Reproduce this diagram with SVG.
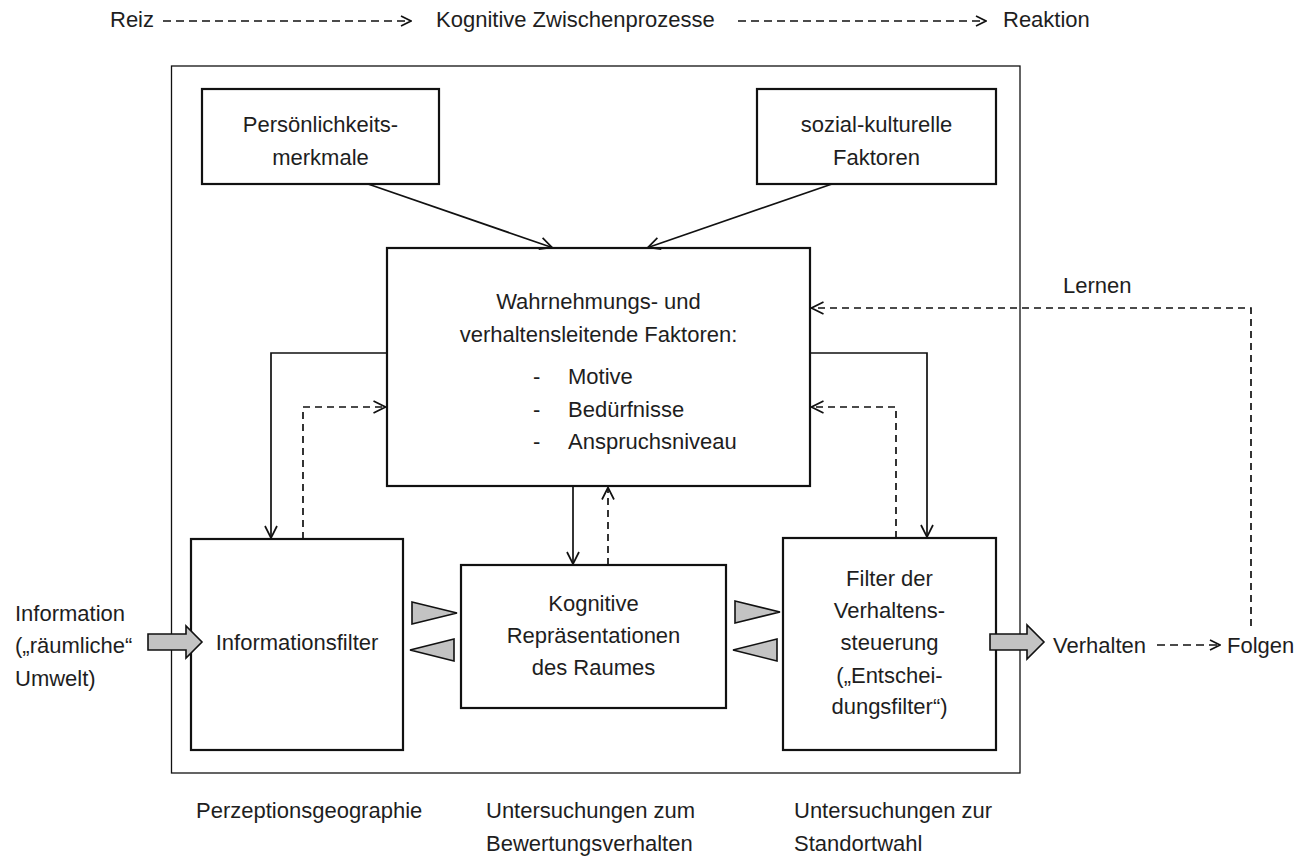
<svg xmlns="http://www.w3.org/2000/svg" width="1311" height="858" viewBox="0 0 1311 858">
<style>
text{font-family:"Liberation Sans",Arial,sans-serif;font-size:22px;fill:#1e1e1e}
.c{text-anchor:middle}
.box{fill:#fff;stroke:#111;stroke-width:2.2}
.outer{fill:none;stroke:#111;stroke-width:1.3}
.ln{fill:none;stroke:#111;stroke-width:1.7}
.dash{fill:none;stroke:#111;stroke-width:1.7;stroke-dasharray:7 5}
.tri{fill:#c3c3c3;stroke:#111;stroke-width:1.6;stroke-linejoin:miter}
</style>
<defs>
<marker id="ah" viewBox="0 0 14 14" refX="13" refY="7" markerWidth="14" markerHeight="14" markerUnits="userSpaceOnUse" orient="auto">
<path d="M1,1 L13,7 L1,13" fill="none" stroke="#111" stroke-width="1.7"/>
</marker>
<marker id="ahs" viewBox="0 0 12 12" refX="11" refY="6" markerWidth="12" markerHeight="12" markerUnits="userSpaceOnUse" orient="auto">
<path d="M1,1 L11,6 L1,11" fill="none" stroke="#111" stroke-width="1.6"/>
</marker>
</defs>

<g id="header">
<text x="110" y="27">Reiz</text>
<text x="436" y="27">Kognitive Zwischenprozesse</text>
<text x="1003" y="27">Reaktion</text>
<line class="dash" x1="163" y1="21" x2="411" y2="21" style="stroke-dasharray:8 5;stroke-width:1.5" marker-end="url(#ahs)"/>
<line class="dash" x1="738" y1="21" x2="986" y2="21" style="stroke-dasharray:8 5;stroke-width:1.5" marker-end="url(#ahs)"/>
</g>

<rect id="outer" class="outer" x="171.5" y="66" width="848.5" height="707"/>

<g id="persoenlichkeit">
<rect class="box" x="202" y="89" width="237" height="95"/>
<text class="c" x="320.5" y="132">Persönlichkeits-</text>
<text class="c" x="320.5" y="165">merkmale</text>
</g>

<g id="sozial">
<rect class="box" x="757" y="89" width="239" height="95"/>
<text class="c" x="876.5" y="132">sozial-kulturelle</text>
<text class="c" x="876.5" y="165">Faktoren</text>
</g>

<g id="wahrnehmung">
<rect class="box" x="387" y="248" width="423" height="238"/>
<text class="c" x="598.5" y="309">Wahrnehmungs- und</text>
<text class="c" x="598.5" y="342">verhaltensleitende Faktoren:</text>
<text x="533" y="384">-</text><text x="568" y="384">Motive</text>
<text x="533" y="417">-</text><text x="568" y="417">Bedürfnisse</text>
<text x="533" y="449">-</text><text x="568" y="449">Anspruchsniveau</text>
</g>

<g id="informationsfilter">
<rect class="box" x="191" y="539" width="212" height="211"/>
<text class="c" x="297" y="650">Informationsfilter</text>
</g>

<g id="kognitive">
<rect class="box" x="461" y="565" width="265" height="143"/>
<text class="c" x="593.5" y="611">Kognitive</text>
<text class="c" x="593.5" y="643">Repräsentationen</text>
<text class="c" x="593.5" y="675">des Raumes</text>
</g>

<g id="filter">
<rect class="box" x="783" y="538" width="213" height="212"/>
<text class="c" x="889.5" y="586">Filter der</text>
<text class="c" x="889.5" y="618">Verhaltens-</text>
<text class="c" x="889.5" y="650">steuerung</text>
<text class="c" x="889.5" y="683">(„Entschei-</text>
<text class="c" x="889.5" y="714">dungsfilter“)</text>
</g>

<g id="information">
<text x="15" y="621">Information</text>
<text x="15" y="653">(„räumliche“</text>
<text x="15" y="686">Umwelt)</text>
</g>

<g id="verhalten">
<text x="1053" y="653">Verhalten</text>
</g>
<g id="folgen">
<text x="1227" y="653">Folgen</text>
</g>
<g id="lernen">
<text x="1063" y="293">Lernen</text>
</g>

<g id="connectors">
<line class="ln" x1="368" y1="184" x2="552" y2="247.5" marker-end="url(#ah)"/>
<line class="ln" x1="832" y1="184" x2="648" y2="247.5" marker-end="url(#ah)"/>
<path class="ln" d="M387,353 H271 V538" marker-end="url(#ah)"/>
<path class="dash" d="M303,539 V407 H385.5" marker-end="url(#ah)"/>
<path class="ln" d="M573,486 V564" marker-end="url(#ah)"/>
<path class="dash" d="M608,565 V487.5" marker-end="url(#ah)"/>
<path class="ln" d="M810,353 H927 V537" marker-end="url(#ah)"/>
<path class="dash" d="M896,538 V407 H811.5" marker-end="url(#ah)"/>
<path class="dash" d="M1251,626 V308 H811.5" marker-end="url(#ah)"/>
<line class="dash" x1="1157" y1="645" x2="1220" y2="645" style="stroke-dasharray:8 5;stroke-width:1.5" marker-end="url(#ahs)"/>
<polygon class="tri" points="148,634 186,634 186,626 202,642 186,658 186,650 148,650"/>
<polygon class="tri" points="990,634 1027,634 1027,625 1044,642 1027,659 1027,650 990,650"/>
<polygon class="tri" points="412,602 457,613 412,624"/>
<polygon class="tri" points="454,639 410,650 454,661"/>
<polygon class="tri" points="735,601 780,612 735,623"/>
<polygon class="tri" points="777,639 733,650 777,661"/>
</g>

<g id="footer">
<text x="196" y="818">Perzeptionsgeographie</text>
<text x="486" y="818">Untersuchungen zum</text>
<text x="486" y="851">Bewertungsverhalten</text>
<text x="794" y="818">Untersuchungen zur</text>
<text x="794" y="851">Standortwahl</text>
</g>
</svg>
